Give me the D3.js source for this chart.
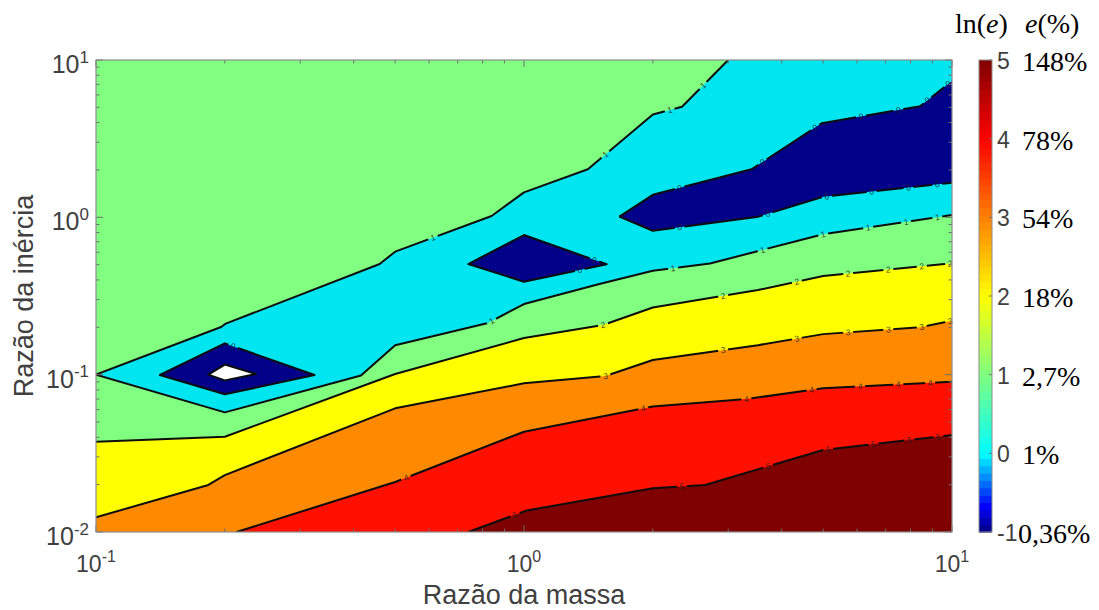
<!DOCTYPE html>
<html>
<head>
<meta charset="utf-8">
<script src="https://cdn.jsdelivr.net/npm/d3@7"></script>
<style>
  html, body { margin: 0; padding: 0; background: #fff; }
  svg { display: block; font-family: "Liberation Sans", Arial, sans-serif; }
</style>
</head>
<body>
<svg id="chart" width="1099" height="610"></svg>
<script>
// ln(e) contour levels and the matching error percentages
const levels = [-1, 0, 1, 2, 3, 4, 5];
const percentLabels = ["0,36%", "1%", "2,7%", "18%", "54%", "78%", "148%"];
const xTicks = [0.1, 1, 10];
const yTicks = [0.01, 0.1, 1, 10];

// Isolines as [razão da massa, razão da inércia] vertices
const iso1Upper = [[0.1, 0.1], [0.196, 0.201], [0.201, 0.211], [0.46, 0.505], [0.5, 0.605], [0.84, 1.02],
                   [1.0, 1.44], [1.41, 2.02], [2.0, 4.5], [2.34, 5.05], [3.0, 10]];
const iso1Lower = [[0.1, 0.1], [0.2, 0.0576], [0.416, 0.0988], [0.5, 0.154], [0.824, 0.213], [1.0, 0.281],
                   [1.5, 0.377], [2.0, 0.458], [2.72, 0.509], [3.53, 0.611], [5.0, 0.78], [10, 1.035]];
const iso0Small = [[0.141, 0.0995], [0.2, 0.158], [0.324, 0.0995], [0.2, 0.075]];
const isoM1Small = [[0.183, 0.1], [0.2, 0.116], [0.2365, 0.101], [0.2, 0.092]];
const iso0Mid = [[0.741, 0.505], [1.0, 0.772], [1.56, 0.503], [1.0, 0.39]];
const iso0Upper = [[1.67, 1.01], [2.0, 1.39], [3.4, 2.02], [4.96, 3.96], [8.42, 5.08], [10, 7.36]];
const iso0Lower = [[1.67, 1.01], [2.0, 0.822], [3.53, 1.01], [5.0, 1.35], [10, 1.66]];
const iso2 = [[0.1, 0.0375], [0.2, 0.0403], [0.5, 0.101], [1.0, 0.171], [1.53, 0.207], [2.0, 0.267],
              [3.52, 0.345], [5.0, 0.424], [10, 0.51]];
const iso3 = [[0.1, 0.0124], [0.183, 0.0199], [0.2, 0.023], [0.5, 0.0611], [1.0, 0.0881], [1.55, 0.098],
              [2.0, 0.124], [3.52, 0.154], [5.0, 0.181], [8.42, 0.2], [10, 0.22]];
const iso4 = [[0.213, 0.01], [0.5, 0.0208], [1.0, 0.0434], [2.0, 0.0628], [3.31, 0.070], [5.0, 0.0819], [10, 0.0902]];
const iso5 = [[0.741, 0.01], [1.015, 0.0137], [2.0, 0.019], [2.65, 0.0199], [5.0, 0.0332], [10, 0.0413]];

// Inline label positions (razão da massa) along each isoline
const labelsIso1Upper = [0.613, 1.55, 2.19, 2.62];
const labelsIso1Lower = [0.84, 2.23, 3.61, 5.0, 6.37, 7.81, 9.24];
const labelsIso0Upper = [2.31, 3.61, 4.79, 6.13, 7.49, 8.77, 9.8];
const labelsIso0Lower = [2.31, 3.71, 5.1, 6.49, 7.91, 9.24];
const labelsIso0Small = [0.209];
const labelsIso0Mid = [1.46, 1.35];
const labelsIso2 = [1.53, 2.92, 4.34, 5.72, 7.1, 8.5, 9.9];
const labelsIso3 = [1.55, 2.92, 4.34, 5.72, 7.1, 8.5, 9.9];
const labelsIso4 = [0.53, 1.9, 3.31, 4.7, 6.1, 7.49, 8.89];
const labelsIso5 = [0.953, 2.34, 3.72, 5.14, 6.55, 7.95, 9.29];

// ---- layout and style ----
const W = 1099, H = 610;
const plot = { left: 96, right: 952, top: 60, bottom: 532 };
const bar = { left: 979, right: 992 };
const bandColor = { "-2": "#ffffff", "-1": "#000088", "0": "#00e6f0", "1": "#80ff80",
                    "2": "#ffff00", "3": "#ff8a00", "4": "#ff1000", "5": "#7f0000" };
const axisText = "#404040";

const svg = d3.select("#chart");
const x = d3.scaleLog().domain([0.1, 10]).range([plot.left, plot.right]);
const y = d3.scaleLog().domain([0.01, 10]).range([plot.bottom, plot.top]);
const [xMin, xMax] = x.domain();
const [yMin, yMax] = y.domain();

const line = d3.line().x(d => x(d[0])).y(d => y(d[1]));
const loop = d3.line().x(d => x(d[0])).y(d => y(d[1])).curve(d3.curveLinearClosed);

const defs = svg.append("defs");
defs.append("clipPath").attr("id", "plotClip")
  .append("rect").attr("x", plot.left).attr("y", plot.top)
  .attr("width", plot.right - plot.left).attr("height", plot.bottom - plot.top);

// ---- filled bands (painted from the background band outwards) ----
const fills = svg.append("g").attr("clip-path", "url(#plotClip)");
fills.append("rect").attr("x", plot.left).attr("y", plot.top)
  .attr("width", plot.right - plot.left).attr("height", plot.bottom - plot.top)
  .attr("fill", bandColor["1"]);

const cyanBand = iso1Upper.concat([[xMax, yMax]], iso1Lower.slice().reverse());
fills.append("path").attr("d", loop(cyanBand)).attr("fill", bandColor["0"]);

const blueBig = iso0Upper.concat(iso0Lower.slice().reverse());
[iso0Small, iso0Mid, blueBig].forEach(p =>
  fills.append("path").attr("d", loop(p)).attr("fill", bandColor["-1"]));
fills.append("path").attr("d", loop(isoM1Small)).attr("fill", bandColor["-2"]);

const lowerBand = (iso, lvl) => {
  const poly = iso.concat([[xMax, yMin]]);
  if (iso[0][1] > yMin) poly.push([xMin, yMin]);
  fills.append("path").attr("d", loop(poly)).attr("fill", bandColor[lvl]);
};
lowerBand(iso2, "2");
lowerBand(iso3, "3");
lowerBand(iso4, "4");
lowerBand(iso5, "5");

// ---- contour labels ----
const closedLoops = [iso0Small, iso0Mid];
function pointOn(path, mx, nth) {
  const lm = Math.log10(mx);
  const closed = closedLoops.includes(path);
  const nSeg = closed ? path.length : path.length - 1;
  let count = 0;
  for (let i = 0; i < nSeg; i++) {
    const a = path[i], b = path[(i + 1) % path.length];
    const la = Math.log10(a[0]), lb = Math.log10(b[0]);
    if (la !== lb && (lm - la) * (lm - lb) <= 0) {
      if (count === nth) {
        const t = (lm - la) / (lb - la);
        const ly = Math.log10(a[1]) + t * (Math.log10(b[1]) - Math.log10(a[1]));
        const px = x(mx), py = y(Math.pow(10, ly));
        let ang = Math.atan2(y(b[1]) - y(a[1]), x(b[0]) - x(a[0])) * 180 / Math.PI;
        if (ang > 90) ang -= 180;
        if (ang < -90) ang += 180;
        return { px, py, ang };
      }
      count++;
    }
  }
  return null;
}

const labelSpecs = [];
const addLabels = (path, list, lvl, nths) => list.forEach((m, i) => {
  const p = pointOn(path, m, nths ? nths[i] : 0);
  if (p) labelSpecs.push(Object.assign(p, { text: String(lvl) }));
});
addLabels(iso1Upper, labelsIso1Upper, 1);
addLabels(iso1Lower, labelsIso1Lower, 1);
addLabels(iso0Upper, labelsIso0Upper, 0);
addLabels(iso0Lower, labelsIso0Lower, 0);
addLabels(iso0Small, labelsIso0Small, 0);
addLabels(iso0Mid, labelsIso0Mid, 0, [0, 1]);
addLabels(iso2, labelsIso2, 2);
addLabels(iso3, labelsIso3, 3);
addLabels(iso4, labelsIso4, 4);
addLabels(iso5, labelsIso5, 5);

// gaps in the contour lines where labels sit
const mask = defs.append("mask").attr("id", "labelGaps").attr("maskUnits", "userSpaceOnUse")
  .attr("x", 0).attr("y", 0).attr("width", W).attr("height", H);
mask.append("rect").attr("width", W).attr("height", H).attr("fill", "#fff");
labelSpecs.forEach(l => mask.append("rect")
  .attr("x", -5).attr("y", -4).attr("width", 10).attr("height", 8)
  .attr("transform", `translate(${l.px},${l.py}) rotate(${l.ang})`).attr("fill", "#000"));

// ---- contour lines ----
const lines = svg.append("g").attr("clip-path", "url(#plotClip)")
  .append("g").attr("mask", "url(#labelGaps)")
  .attr("fill", "none").attr("stroke", "#0d0d0d").attr("stroke-width", 2)
  .attr("stroke-linejoin", "round");
[iso1Upper, iso1Lower, iso0Upper, iso0Lower, iso2, iso3, iso4, iso5].forEach(p =>
  lines.append("path").attr("d", line(p)));
[iso0Small, iso0Mid, isoM1Small].forEach(p => lines.append("path").attr("d", loop(p)));

svg.append("g").selectAll("text").data(labelSpecs).join("text")
  .attr("transform", d => `translate(${d.px},${d.py}) rotate(${d.ang})`)
  .attr("text-anchor", "middle").attr("dy", "0.35em")
  .attr("font-size", 8.5).attr("fill", "#202020").attr("fill-opacity", 0.85)
  .text(d => d.text);

// ---- axes box and ticks ----
const isMajor = v => Math.abs(Math.log10(v) - Math.round(Math.log10(v))) < 1e-9;
const ticks = svg.append("g").attr("stroke", "#6e6e6e").attr("stroke-width", 1);
x.ticks().forEach(v => {
  const len = isMajor(v) ? 7 : 3.5, px = x(v);
  ticks.append("line").attr("x1", px).attr("x2", px).attr("y1", plot.bottom).attr("y2", plot.bottom - len);
  ticks.append("line").attr("x1", px).attr("x2", px).attr("y1", plot.top).attr("y2", plot.top + len);
});
y.ticks().forEach(v => {
  const len = isMajor(v) ? 7 : 3.5, py = y(v);
  ticks.append("line").attr("y1", py).attr("y2", py).attr("x1", plot.left).attr("x2", plot.left + len);
  ticks.append("line").attr("y1", py).attr("y2", py).attr("x1", plot.right).attr("x2", plot.right - len);
});
svg.append("rect").attr("x", plot.left).attr("y", plot.top)
  .attr("width", plot.right - plot.left).attr("height", plot.bottom - plot.top)
  .attr("fill", "none").attr("stroke", "#8c8c8c").attr("stroke-width", 1.2);

// tick labels 10^n
const powerLabel = (sel, v, base, sup) => {
  const n = Math.round(Math.log10(v));
  sel.append("tspan").attr("font-size", base).text("10");
  sel.append("tspan").attr("font-size", sup).attr("dy", -base * 0.42).text(String(n));
};
xTicks.forEach(v => {
  const t = svg.append("text").attr("x", x(v)).attr("y", 572)
    .attr("text-anchor", "middle").attr("fill", axisText);
  powerLabel(t, v, 23, 16);
});
yTicks.forEach(v => {
  const t = svg.append("text").attr("x", 89).attr("y", y(v) + 13)
    .attr("text-anchor", "end").attr("fill", axisText);
  powerLabel(t, v, 25, 17);
});

// axis titles
svg.append("text").attr("x", (plot.left + plot.right) / 2).attr("y", 604)
  .attr("text-anchor", "middle").attr("font-size", 27).attr("fill", axisText)
  .text("Razão da massa");
svg.append("text").attr("transform", `translate(33,${(plot.top + plot.bottom) / 2}) rotate(-90)`)
  .attr("text-anchor", "middle").attr("font-size", 27).attr("fill", axisText)
  .text("Razão da inércia");

// ---- colour bar ----
const c = d3.scaleLinear().domain(d3.extent(levels)).range([plot.bottom, plot.top]);
const jetPos = d3.scaleLinear().domain(levels).range([0, 0.375, 0.5, 0.625, 0.75, 0.875, 1]);
const jet = d3.scaleLinear().domain([0, 0.125, 0.375, 0.625, 0.875, 1])
  .range(["#000080", "#0000ff", "#00ffff", "#ffff00", "#ff0000", "#800000"]);
const nSteps = 64;
const [cLo, cHi] = c.domain();
const steps = d3.range(nSteps).map(i => cLo + (cHi - cLo) * i / nSteps);
const stepH = (c(cLo) - c(cHi)) / nSteps;
svg.append("g").selectAll("rect").data(steps).join("rect")
  .attr("x", bar.left).attr("width", bar.right - bar.left)
  .attr("y", d => c(d) - stepH).attr("height", stepH + 0.6)
  .attr("fill", d => jet(jetPos(d + (cHi - cLo) / nSteps / 2)));
levels.forEach(l => svg.append("line")
  .attr("x1", bar.right).attr("x2", bar.right - 3).attr("y1", c(l)).attr("y2", c(l))
  .attr("stroke", "#6e6e6e"));
svg.append("rect").attr("x", bar.left).attr("y", plot.top)
  .attr("width", bar.right - bar.left).attr("height", plot.bottom - plot.top)
  .attr("fill", "none").attr("stroke", "#8c8c8c").attr("stroke-width", 1);

levels.forEach((l, i) => {
  svg.append("text").attr("x", 997).attr("y", c(l) + 9)
    .attr("font-size", 23).attr("fill", axisText).text(String(l));
  svg.append("text").attr("x", l < 0 ? 1018 : 1022).attr("y", c(l) + 11)
    .attr("font-family", "'Liberation Serif', 'Times New Roman', serif")
    .attr("font-size", 28).attr("fill", "#000").text(percentLabels[i]);
});

const head = svg.append("g").attr("font-family", "'Liberation Serif', 'Times New Roman', serif")
  .attr("font-size", 28).attr("fill", "#000");
const h1 = head.append("text").attr("x", 955).attr("y", 33);
h1.append("tspan").text("ln(");
h1.append("tspan").attr("font-style", "italic").text("e");
h1.append("tspan").text(")");
const h2 = head.append("text").attr("x", 1025).attr("y", 33);
h2.append("tspan").attr("font-style", "italic").text("e");
h2.append("tspan").text("(%)");
</script>
</body>
</html>
